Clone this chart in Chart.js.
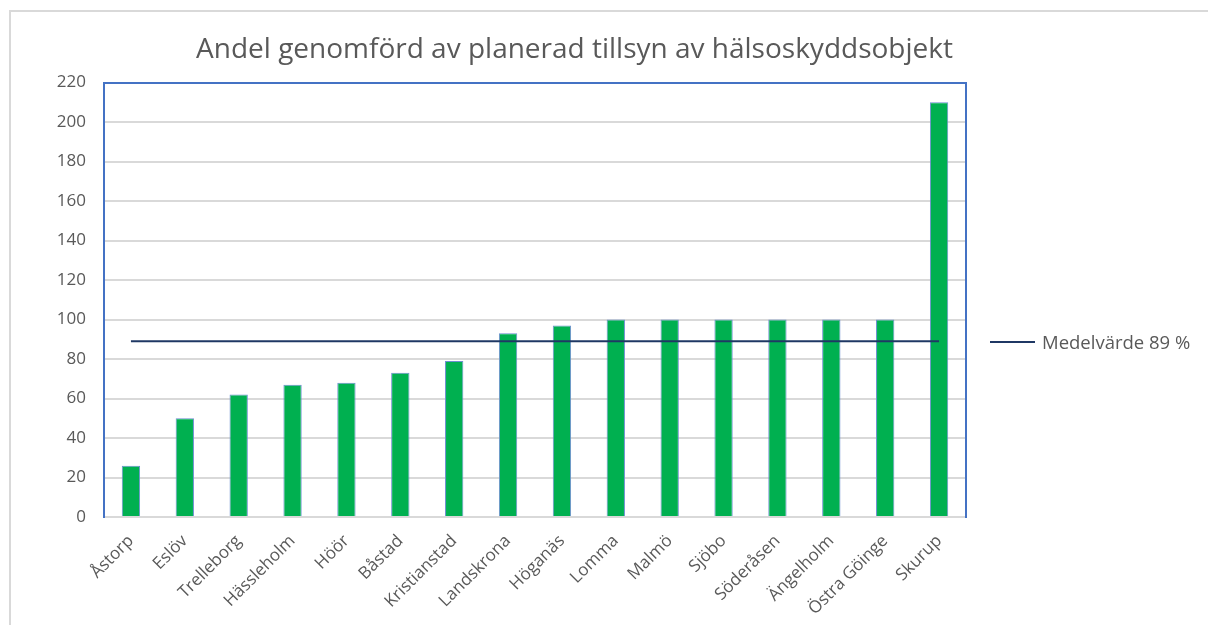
<!DOCTYPE html>
<html>
<head>
<meta charset="utf-8">
<script src="https://cdn.jsdelivr.net/npm/chart.js@4.4.1/dist/chart.umd.min.js"></script>
<style>
  body { margin: 0; background: #fff; }
  #wrap { position: relative; width: 1208px; height: 625px; overflow: hidden; }
  #frame { position: absolute; left: 9px; top: 10px; width: 1300px; height: 700px;
           border-left: 2px solid #d9d9d9; border-top: 2px solid #d9d9d9; }
  #chart { position: absolute; left: 0; top: 0; }
  #legend { position: absolute; left: 990px; top: 329px; font-family: 'Open Sans', sans-serif;
            font-size: 18.5px; color: #595959; display: flex; align-items: center; }
  #legend span.line { display: inline-block; width: 45px; height: 2px; background: #1f3864; margin-right: 7px; }
</style>
</head>
<body>
<div id="wrap">
  <div id="frame"></div>
  <canvas id="chart" width="1208" height="625"></canvas>
  <div id="legend"><span class="line"></span><span>Medelvärde 89 %</span></div>
</div>
<script>
// Data
const municipalities = ['Åstorp', 'Eslöv', 'Trelleborg', 'Hässleholm', 'Höör', 'Båstad', 'Kristianstad', 'Landskrona',
    'Höganäs', 'Lomma', 'Malmö', 'Sjöbo', 'Söderåsen', 'Ängelholm', 'Östra Göinge', 'Skurup'];
const shareDone = [26, 50, 62, 67, 68, 73, 79, 93, 97, 100, 100, 100, 100, 100, 100, 210];
const average = [89, 89, 89, 89, 89, 89, 89, 89, 89, 89, 89, 89, 89, 89, 89, 89];
const yTicks = { min: 0, max: 220, step: 20 };

const grey = '#595959';
const plotBlue = '#4472c4';
const font = { family: "'Open Sans', sans-serif", size: 17 };

const ctx = document.getElementById('chart').getContext('2d');
new Chart(ctx, {
    data: {
        labels: municipalities,
        datasets: [
            {
                type: 'line',
                label: 'Medelvärde 89 %',
                data: average,
                borderColor: '#1f3864',
                borderWidth: 2,
                pointRadius: 0,
                order: 0
            },
            {
                type: 'bar',
                label: 'Andel',
                data: shareDone,
                backgroundColor: '#00b050',
                borderColor: '#6d8fd0',
                borderWidth: 1,
                barPercentage: 0.34,
                categoryPercentage: 1,
                order: 1
            }
        ]
    },
    options: {
        responsive: false,
        animation: false,
        layout: { padding: { left: 20, right: 79, top: 0, bottom: 0 } },
        plugins: {
            legend: { display: false },
            tooltip: { enabled: false },
            title: {
                display: true,
                text: 'Andel genomförd av planerad tillsyn av hälsoskyddsobjekt',
                color: grey,
                font: { family: "'Open Sans', sans-serif", size: 28, weight: 'normal' },
                padding: { top: 33, bottom: 16 }
            }
        },
        scales: {
            x: {
                grid: { display: false },
                border: { color: '#d9d9d9', width: 2 },
                ticks: { color: grey, font: font, minRotation: 45, maxRotation: 45, padding: 6 },
                afterFit: (scale) => { scale.height = 108; }
            },
            xTop: {
                position: 'top',
                type: 'category',
                labels: municipalities,
                grid: { display: false, drawTicks: false },
                border: { color: plotBlue, width: 2 },
                ticks: { display: false },
                afterFit: (scale) => { scale.height = 0; }
            },
            y: {
                min: yTicks.min,
                max: yTicks.max,
                ticks: { stepSize: yTicks.step, color: grey, font: font, padding: 18 },
                grid: { color: '#d9d9d9', lineWidth: 2, drawTicks: false },
                border: { color: plotBlue, width: 2 },
                afterFit: (scale) => { scale.width = 84; }
            },
            yRight: {
                position: 'right',
                min: yTicks.min,
                max: yTicks.max,
                grid: { display: false, drawTicks: false },
                border: { color: plotBlue, width: 2 },
                ticks: { display: false },
                afterFit: (scale) => { scale.width = 163; }
            }
        }
    }
});
</script>
</body>
</html>
